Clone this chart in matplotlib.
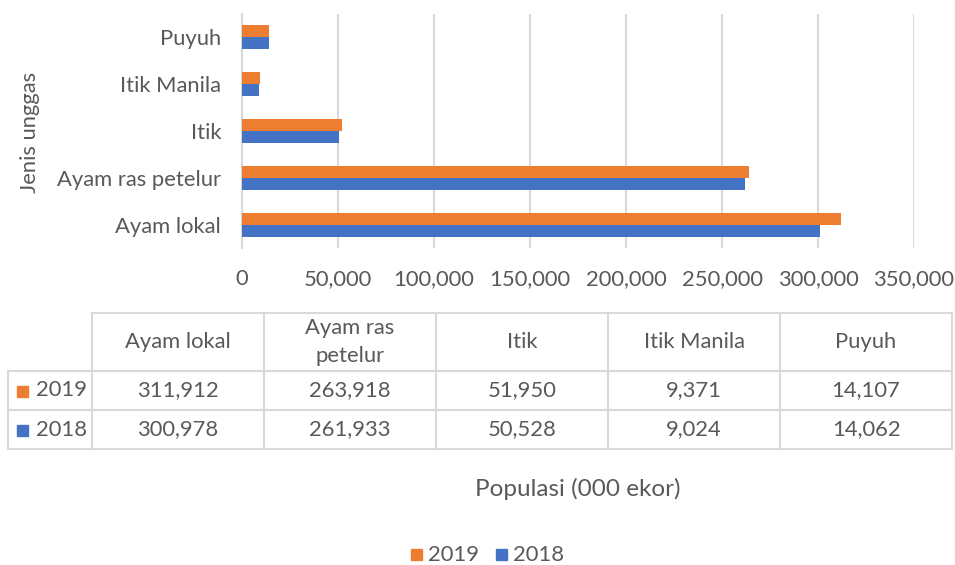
import matplotlib
matplotlib.use("Agg")
import matplotlib.pyplot as plt
from matplotlib.ticker import FuncFormatter
import numpy as np

plt.rcParams['font.family'] = ['Lato', 'DejaVu Sans']

categories = ["Ayam lokal", "Ayam ras petelur", "Itik", "Itik Manila", "Puyuh"]
table_headers = ["Ayam lokal", "Ayam ras\npetelur", "Itik", "Itik Manila", "Puyuh"]
values_2019 = [311912, 263918, 51950, 9371, 14107]
values_2018 = [300978, 261933, 50528, 9024, 14062]
series_labels = ["2019", "2018"]
x_ticks = [0, 50000, 100000, 150000, 200000, 250000, 300000, 350000]

C19 = "#ED7D31"
C18 = "#4472C4"
TXT = "#595959"
GRID = "#D9D9D9"
FS = 15.8

W, H = 955, 565
fig = plt.figure(figsize=(W / 100, H / 100), dpi=100)

# main bar axes
l, t, r, b = 242, 14, 914, 248
ax = fig.add_axes([l / W, 1 - b / H, (r - l) / W, (b - t) / H])
y = np.arange(len(categories))
h = 0.255
ax.barh(y - h / 2, values_2018, height=h, color=C18, label="2018", zorder=3)
ax.barh(y + h / 2, values_2019, height=h, color=C19, label="2019", zorder=3)
ax.set_xlim(0, 350000)
ax.set_ylim(-0.5, len(categories) - 0.5)
ax.set_xticks(x_ticks)
ax.xaxis.set_major_formatter(FuncFormatter(lambda v, p: f"{int(v):,}"))
ax.set_yticks(y)
ax.set_yticklabels(categories)
ax.tick_params(axis='both', length=0, colors=TXT, labelsize=FS)
ax.tick_params(axis='x', pad=15)
ax.tick_params(axis='y', pad=15)
ax.grid(axis='x', color=GRID, linewidth=1.5, zorder=0)
for s in ["top", "right", "bottom"]:
    ax.spines[s].set_visible(False)
ax.spines["left"].set_color(GRID)
ax.spines["left"].set_linewidth(1.5)

# overlay axes in pixel coordinates
ov = fig.add_axes([0, 0, 1, 1], zorder=-1)
ov.set_xlim(0, W)
ov.set_ylim(H, 0)
ov.axis("off")

ov.text(30, 132, "Jenis unggas", rotation=90, ha="center", va="center",
        color=TXT, fontsize=FS)

col_x = [92 + 172 * i for i in range(6)]
row_y = [313, 371, 410, 449]
left_x = 8
lc = dict(color=GRID, linewidth=1.5)
ov.plot([col_x[0], col_x[-1]], [row_y[0]] * 2, **lc)
for yy in row_y[1:]:
    ov.plot([left_x, col_x[-1]], [yy] * 2, **lc)
for xx in col_x:
    ov.plot([xx, xx], [row_y[0], row_y[-1]], **lc)
ov.plot([left_x, left_x], [row_y[1], row_y[-1]], **lc)

line_gap = 27
for i, hdr in enumerate(table_headers):
    cx = (col_x[i] + col_x[i + 1]) / 2
    lines = hdr.split("\n")
    mid = (row_y[0] + row_y[1]) / 2
    start = mid - line_gap * (len(lines) - 1) / 2
    for k, ln in enumerate(lines):
        ov.text(cx, start + k * line_gap, ln, ha="center", va="center",
                color=TXT, fontsize=FS)
    ov.text(cx, (row_y[1] + row_y[2]) / 2, f"{values_2019[i]:,}", ha="center",
            va="center", color=TXT, fontsize=FS)
    ov.text(cx, (row_y[2] + row_y[3]) / 2, f"{values_2018[i]:,}", ha="center",
            va="center", color=TXT, fontsize=FS)

for (lab, col, ry) in [("2019", C19, 1), ("2018", C18, 2)]:
    cy = (row_y[ry] + row_y[ry + 1]) / 2
    ov.add_patch(plt.Rectangle((17, cy - 5), 11, 11, color=col))
    ov.text(36, cy, lab, ha="left", va="center", color=TXT, fontsize=FS)

ov.text(578, 489, "Populasi (000 ekor)", ha="center", va="center", color=TXT, fontsize=17.5)

# legend
for (lab, col, x0) in [("2019", C19, 411), ("2018", C18, 496)]:
    ov.add_patch(plt.Rectangle((x0, 549), 11, 11, color=col))
    ov.text(x0 + 17, 555, lab, ha="left", va="center", color=TXT, fontsize=FS)

fig.savefig("out.png", dpi=100)
